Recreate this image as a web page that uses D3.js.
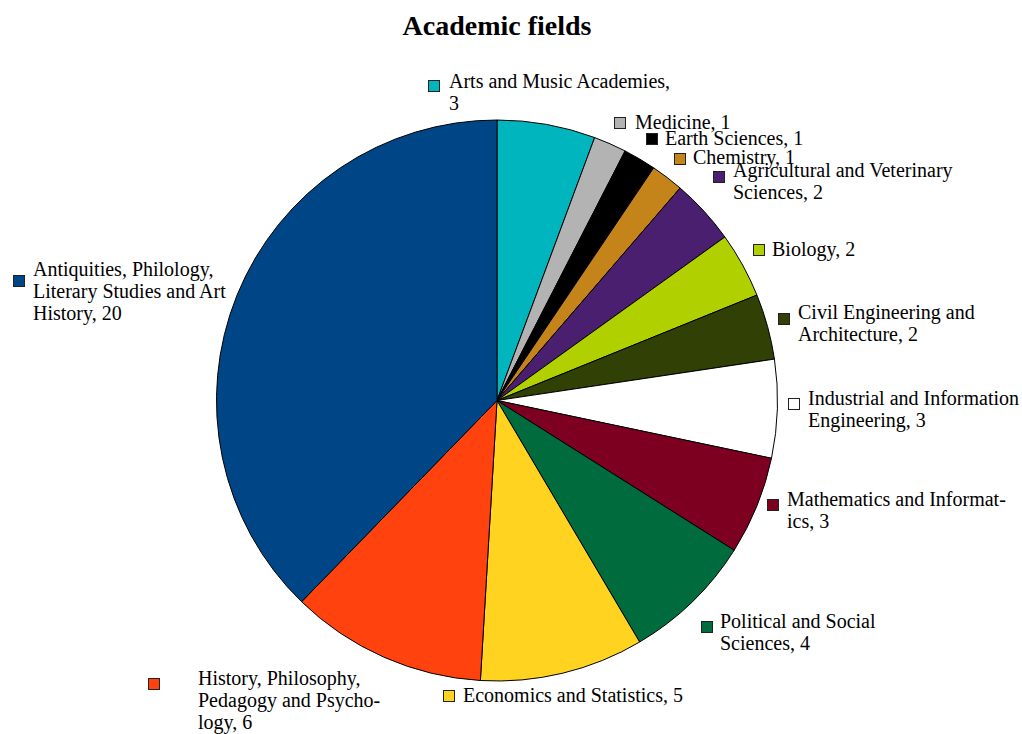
<!DOCTYPE html>
<html>
<head>
<meta charset="utf-8">
<script src="https://cdn.jsdelivr.net/npm/d3@7"></script>
<style>
  html, body { margin: 0; padding: 0; background: #ffffff; }
  svg { display: block; }
  text { font-family: "Liberation Serif", "Times New Roman", serif; fill: #000; }
</style>
</head>
<body>
<svg id="chart" width="1022" height="734"></svg>
<script>
// Academic fields, in clockwise order from 12 o'clock
const categories = [
  "Arts and Music Academies",
  "Medicine",
  "Earth Sciences",
  "Chemistry",
  "Agricultural and Veterinary Sciences",
  "Biology",
  "Civil Engineering and Architecture",
  "Industrial and Information Engineering",
  "Mathematics and Informatics",
  "Political and Social Sciences",
  "Economics and Statistics",
  "History, Philosophy, Pedagogy and Psychology",
  "Antiquities, Philology, Literary Studies and Art History"
];
const values = [3, 1, 1, 1, 2, 2, 2, 3, 3, 4, 5, 6, 20];
const colors = [
  "#00b5be", "#b3b3b3", "#000000", "#c5841a", "#4b1f6f", "#b0d000", "#314004",
  "#ffffff", "#7e0021", "#006b3c", "#ffd320", "#ff420e", "#004586"
];

// Label text: "|" breaks a line, "{v}" is replaced with the value
const labelFormats = [
  "Arts and Music Academies,|{v}",
  "Medicine, {v}",
  "Earth Sciences, {v}",
  "Chemistry, {v}",
  "Agricultural and Veterinary|Sciences, {v}",
  "Biology, {v}",
  "Civil Engineering and|Architecture, {v}",
  "Industrial and Information|Engineering, {v}",
  "Mathematics and Informat-|ics, {v}",
  "Political and Social|Sciences, {v}",
  "Economics and Statistics, {v}",
  "History, Philosophy,|Pedagogy and Psycho-|logy, {v}",
  "Antiquities, Philology,|Literary Studies and Art|History, {v}"
];

// Label placement: swatch x, swatch y, text x, first baseline
const labelLayout = [
  [428, 80, 449, 88],
  [614, 117, 635, 129],
  [646, 133, 665, 145],
  [674, 153, 693, 164],
  [713, 171, 733, 177],
  [753, 244, 772, 256],
  [778, 313, 798, 319],
  [788, 398, 808, 405],
  [767, 499, 787, 506],
  [701, 621, 720, 628],
  [443, 690, 463, 702],
  [148, 678, 198, 685],
  [13, 275, 33, 276]
];

const svg = d3.select("#chart");
const cx = 497, cy = 400.5, radius = 280.5;

svg.append("text")
  .attr("x", 497)
  .attr("y", 35)
  .attr("text-anchor", "middle")
  .style("font-size", "28px")
  .style("font-weight", "bold")
  .text("Academic fields");

const data = categories.map((c, i) => ({ name: c, value: values[i], color: colors[i], idx: i }));

const pie = d3.pie().value(d => d.value).sort(null);
const arc = d3.arc().innerRadius(0).outerRadius(radius);

svg.append("g")
  .attr("transform", `translate(${cx},${cy})`)
  .selectAll("path")
  .data(pie(data))
  .join("path")
  .attr("d", arc)
  .attr("fill", d => d.data.color)
  .attr("stroke", "#000")
  .attr("stroke-width", 1)
  .attr("stroke-linejoin", "round");

const labels = svg.append("g").selectAll("g")
  .data(data)
  .join("g");

labels.append("rect")
  .attr("x", d => labelLayout[d.idx][0] + 0.5)
  .attr("y", d => labelLayout[d.idx][1] + 0.5)
  .attr("width", 11)
  .attr("height", 11)
  .attr("fill", d => d.color)
  .attr("stroke", "#222")
  .attr("stroke-width", 1);

labels.append("text")
  .attr("x", d => labelLayout[d.idx][2])
  .attr("y", d => labelLayout[d.idx][3])
  .style("font-size", "20px")
  .each(function (d) {
    const lines = labelFormats[d.idx].replace("{v}", d.value).split("|");
    const t = d3.select(this);
    lines.forEach((ln, k) => {
      t.append("tspan")
        .attr("x", labelLayout[d.idx][2])
        .attr("dy", k === 0 ? 0 : 22)
        .text(ln);
    });
  });
</script>
</body>
</html>
